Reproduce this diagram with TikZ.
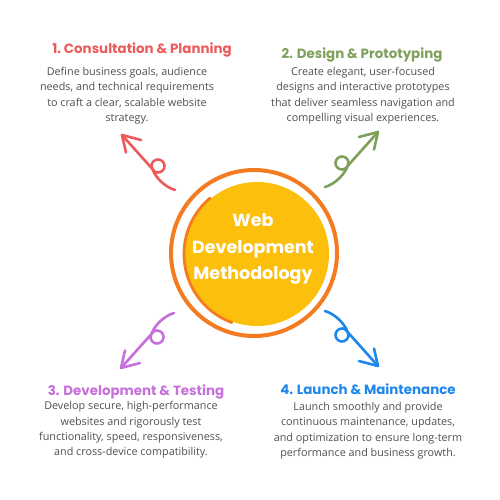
\documentclass[tikz,border=0pt]{standalone}
\usepackage{fontspec}
\setmainfont{Open Sans}
\newfontfamily\headfont{Poppins}
\definecolor{cred}{HTML}{EC5B5B}
\definecolor{cgreen}{HTML}{7EA05A}
\definecolor{cpurple}{HTML}{C76FDA}
\definecolor{cblue}{HTML}{1D87EC}
\definecolor{corange}{HTML}{F47B20}
\definecolor{cyellow}{HTML}{FBBF0C}
\definecolor{ctext}{HTML}{505050}
\newcommand\curlarrow[1]{%
  \draw[curlstroke,#1] (0,0) .. controls (10,-3) and (21,-13) .. (23.5,-24)
     arc[start angle=0, end angle=-300, radius=6.5] -- (53,-55);
  \draw[curlstroke,#1] (34,-50) -- (53,-55) -- (49,-37.5);
}
\tikzset{
  curlstroke/.style={line width=2.6pt, line cap=round, line join=round},
  head/.style={font=\headfont\bfseries\fontsize{13.4}{15}\selectfont, inner sep=0pt},
  desc/.style={font=\fontsize{10.8}{15.4}\selectfont, text=ctext, align=center, inner sep=0pt},
  title/.style={font=\headfont\bfseries\fontsize{17.5}{26.5}\selectfont, text=white, align=center, inner sep=0pt}
}
\begin{document}
\begin{tikzpicture}[x=1pt,y=-1pt]
\useasboundingbox (0,0) rectangle (500,500);
\fill[white] (0,0) rectangle (500,500);
% central circle
\fill[cyellow] (257,254) circle (72);
\draw[corange, line width=4pt] (254,253) circle (83);
\draw[corange, line width=2.8pt, line cap=round] (257,254) ++(-130:73) arc[start angle=-130, end angle=-250, radius=73];
\node[title] (center) at (253,249) {Web\\Development\\Methodology};
% arrows
\coordinate (tail1) at (175,190);
\coordinate (tail2) at (325,187);
\coordinate (tail3) at (174,313);
\coordinate (tail4) at (325,311);
\begin{scope}[shift={(tail1)}, xscale=-1]\curlarrow{cred}\end{scope}
\begin{scope}[shift={(tail2)}]\curlarrow{cgreen}\end{scope}
\begin{scope}[shift={(tail3)}, xscale=-1, yscale=-1]\curlarrow{cpurple}\end{scope}
\begin{scope}[shift={(tail4)}, yscale=-1]\curlarrow{cblue}\end{scope}
% headings
\node[head, text=cred] (h1) at (142,50) {1.\ Consultation \& Planning};
\node[head, text=cgreen] (h2) at (362,55) {2. Design \& Prototyping};
\node[head, text=cpurple] (h3) at (136,392) {3. Development \& Testing};
\node[head, text=cblue] (h4) at (368,389) {4. Launch \& Maintenance};
% descriptions
\node[desc] (d1) at (127,95.5) {Define business goals, audience\\needs, and technical requirements\\to craft a clear, scalable website\\strategy.};
\node[desc] (d2) at (363,95.5) {Create elegant, user-focused\\designs and interactive prototypes\\that deliver seamless navigation and\\compelling visual experiences.};
\node[desc] (d3) at (131,430) {Develop secure, high-performance\\websites and rigorously test\\functionality, speed, responsiveness,\\and cross-device compatibility.};
\node[desc] (d4) at (368,430.5) {Launch smoothly and provide\\continuous maintenance, updates,\\and optimization to ensure long-term\\performance and business growth.};
\end{tikzpicture}
\end{document}
